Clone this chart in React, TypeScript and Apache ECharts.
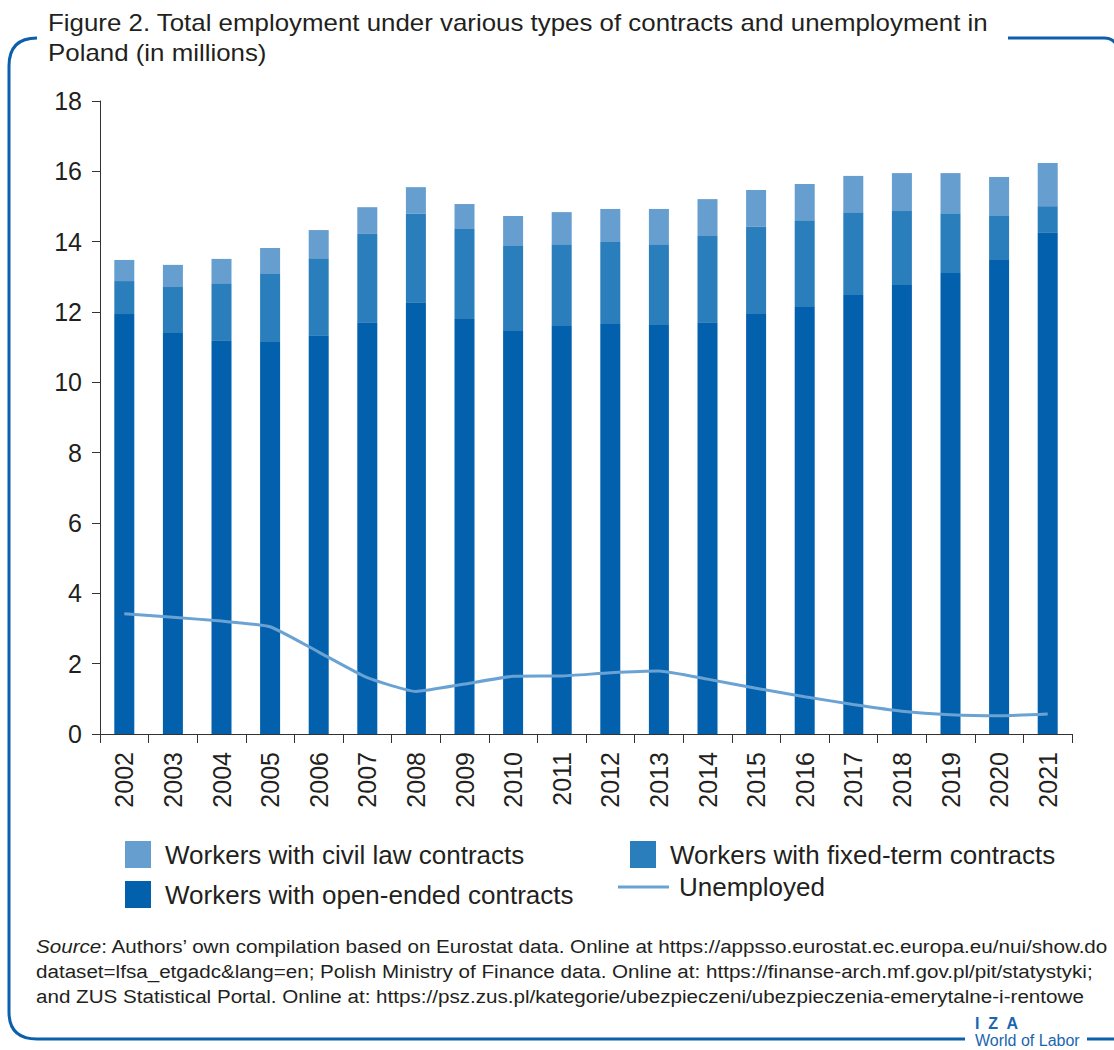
import React, { useEffect, useRef } from "react";
import * as echarts from "echarts";

const years = ["2002","2003","2004","2005","2006","2007","2008","2009","2010","2011","2012","2013","2014","2015","2016","2017","2018","2019","2020","2021"];
const openEnded = [11.94, 11.40, 11.20, 11.15, 11.34, 11.71, 12.28, 11.80, 11.46, 11.60, 11.66, 11.63, 11.71, 11.94, 12.14, 12.48, 12.77, 13.11, 13.48, 14.27];
const fixedTerm = [0.94, 1.31, 1.62, 1.93, 2.19, 2.51, 2.51, 2.56, 2.44, 2.33, 2.33, 2.30, 2.45, 2.48, 2.47, 2.36, 2.10, 1.70, 1.25, 0.74];
const civilLaw = [0.60, 0.63, 0.69, 0.74, 0.80, 0.76, 0.76, 0.71, 0.83, 0.91, 0.94, 1.00, 1.05, 1.05, 1.03, 1.03, 1.08, 1.14, 1.11, 1.23];
const unemployed = [3.42, 3.32, 3.21, 3.05, 2.33, 1.60, 1.21, 1.42, 1.64, 1.65, 1.74, 1.79, 1.56, 1.30, 1.06, 0.84, 0.65, 0.55, 0.52, 0.57];

const titleLines = [
  "Figure 2. Total employment under various types of contracts and unemployment in",
  "Poland (in millions)",
];
const sourceLines = [
  ": Authors\u2019 own compilation based on Eurostat data. Online at https://appsso.eurostat.ec.europa.eu/nui/show.do",
  "dataset=lfsa_etgadc&lang=en; Polish Ministry of Finance data. Online at: https://finanse-arch.mf.gov.pl/pit/statystyki;",
  "and ZUS Statistical Portal. Online at: https://psz.zus.pl/kategorie/ubezpieczeni/ubezpieczenia-emerytalne-i-rentowe",
];

const NAME_CIVIL = "Workers with civil law contracts";
const NAME_FIXED = "Workers with fixed-term contracts";
const NAME_OPEN = "Workers with open-ended contracts";
const NAME_UNEMP = "Unemployed";

const C_OPEN = "#0260ad";
const C_FIXED = "#2b7ebc";
const C_CIVIL = "#669ecf";
const C_LINE = "#6aa3d3";
const C_FRAME = "#0b5fab";
const FONT = "Liberation Sans, Arial, sans-serif";

let registered = false;
function registerShapes() {
  if (registered) return;
  registered = true;
  echarts.graphic.registerShape(
    "frameLeft",
    echarts.graphic.extendPath(
      "M37 38 Q9 38 9 66 L9 1012 Q9 1039 37 1039 L965 1039",
      {}
    ) as any
  );
  echarts.graphic.registerShape(
    "frameTop",
    echarts.graphic.extendPath("M1008 38 L1104 38 Q1112 38 1116 44", {}) as any
  );
  echarts.graphic.registerShape(
    "frameBottom",
    echarts.graphic.extendPath("M1087 1039 L1116 1039", {}) as any
  );
}

export default function App() {
  const ref = useRef<HTMLDivElement>(null);
  useEffect(() => {
    document.body.style.margin = "0";
    registerShapes();
    const chart = echarts.init(ref.current!, null, { renderer: "svg" });
    const legendBase = {
      orient: "horizontal" as const,
      selectedMode: false,
      icon: "rect",
      padding: 0,
      itemWidth: 26,
      itemHeight: 27,
      textStyle: { fontSize: 26, color: "#231f20", fontFamily: FONT, padding: [0, 0, 0, 9] },
    };
    chart.setOption({
      animation: false,
      backgroundColor: "#ffffff",
      grid: { left: 100, right: 42, top: 101, bottom: 316, containLabel: false },
      xAxis: {
        type: "category",
        data: years,
        boundaryGap: true,
        axisLine: { lineStyle: { color: "#333333", width: 1 } },
        axisTick: { show: true, length: 9, inside: false, lineStyle: { color: "#333333" } },
        axisLabel: { rotate: 90, fontSize: 25, color: "#231f20", fontFamily: FONT, margin: 18 },
      },
      yAxis: {
        type: "value",
        min: 0,
        max: 18,
        interval: 2,
        splitLine: { show: false },
        axisLine: { show: true, lineStyle: { color: "#333333", width: 1 } },
        axisTick: { show: true, length: 8, inside: false, lineStyle: { color: "#333333" } },
        axisLabel: { fontSize: 25, color: "#231f20", fontFamily: FONT, margin: 18 },
      },
      legend: [
        { ...legendBase, left: 125, top: 841, data: [NAME_CIVIL] },
        { ...legendBase, left: 630, top: 841, data: [NAME_FIXED] },
        { ...legendBase, left: 125, top: 881, data: [NAME_OPEN] },
        {
          ...legendBase,
          left: 618,
          top: 874,
          itemWidth: 51,
          itemHeight: 3,
          textStyle: { ...legendBase.textStyle, padding: [0, 0, 0, 5] },
          data: [NAME_UNEMP],
        },
      ],
      series: [
        { name: NAME_OPEN, type: "bar", stack: "emp", data: openEnded, barWidth: 20, itemStyle: { color: C_OPEN } },
        { name: NAME_FIXED, type: "bar", stack: "emp", data: fixedTerm, barWidth: 20, itemStyle: { color: C_FIXED } },
        { name: NAME_CIVIL, type: "bar", stack: "emp", data: civilLaw, barWidth: 20, itemStyle: { color: C_CIVIL } },
        {
          name: NAME_UNEMP,
          type: "line",
          data: unemployed,
          symbol: "none",
          smooth: 0.15,
          lineStyle: { color: C_LINE, width: 3 },
          itemStyle: { color: C_LINE },
          z: 5,
        },
      ],
      graphic: [
        { type: "frameLeft", shape: {}, style: { stroke: C_FRAME, lineWidth: 3, fill: null }, silent: true },
        { type: "frameTop", shape: {}, style: { stroke: C_FRAME, lineWidth: 3, fill: null }, silent: true },
        { type: "frameBottom", shape: {}, style: { stroke: C_FRAME, lineWidth: 3, fill: null }, silent: true },
        {
          type: "text",
          x: 48,
          y: 8,
          scaleX: 1.125,
          style: {
            text: titleLines.join("\n"),
            fontSize: 23,
            lineHeight: 30,
            fill: "#231f20",
            fontFamily: FONT,
          },
        },
        ...sourceLines.map((line, i) => ({
          type: "text",
          x: 36,
          y: 937 + i * 25,
          scaleX: 1.085,
          style: {
            text: i === 0 ? "{it|Source}" + line : line,
            fontSize: 19,
            fill: "#231f20",
            fontFamily: FONT,
            rich: { it: { fontStyle: "italic", fontSize: 19, fill: "#231f20", fontFamily: FONT } },
          },
        })),
        {
          type: "text",
          x: 975,
          y: 1015,
          style: { text: "I  Z  A", fontSize: 16, fontWeight: "bold", fill: "#1a66b0", fontFamily: FONT },
        },
        {
          type: "text",
          x: 975,
          y: 1032,
          style: { text: "World of Labor", fontSize: 16, fill: "#1a66b0", fontFamily: FONT },
        },
      ],
    });
    return () => chart.dispose();
  }, []);
  return <div ref={ref} style={{ width: 1114, height: 1050 }} />;
}
